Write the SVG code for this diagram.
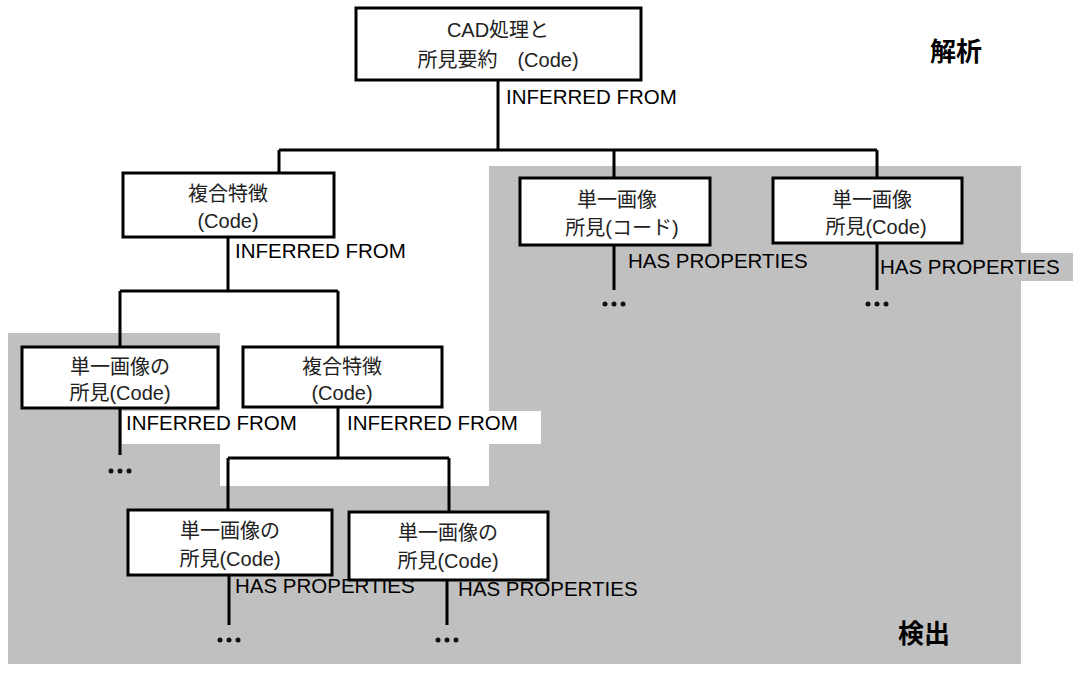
<svg xmlns="http://www.w3.org/2000/svg" width="1073" height="682" viewBox="0 0 1073 682">
<style>
.box{fill:#fff;stroke:#000;stroke-width:3}
.ln{stroke:#000;stroke-width:3;fill:none}
.nt{font-family:"Liberation Sans","Noto Sans CJK JP",sans-serif;font-size:20px;fill:#222;text-anchor:middle}
.lb{font-family:"Liberation Sans","Noto Sans CJK JP",sans-serif;font-size:20.5px;fill:#000}
.big{font-family:"Noto Sans CJK JP",sans-serif;font-size:26px;font-weight:bold;fill:#000}
.dot{fill:#111}
</style>
<g id="background">
<polygon points="489,166 1021,166 1021,664 8,664 8,333 220,333 220,486 489,486" fill="#c0c0c0"/>
<rect x="877" y="253" width="196" height="28" fill="#c0c0c0"/>
<rect x="122" y="411" width="419" height="33" fill="#fff"/>
</g>
<g id="connectors">
<path class="ln" d="M498,80 V150 M279,150 H877 M279,150 V173 M614,150 V178 M877,150 V178"/>
<path class="ln" d="M228,237 V291 M120,291 H338 M120,291 V347 M338,291 V347"/>
<path class="ln" d="M120,408 V455 M338,407 V458 M228,458 H449 M228,458 V510 M449,458 V512"/>
<path class="ln" d="M229,575 V625 M447,580 V625 M614,245 V290 M877,243 V290"/>
<text class="lb" x="506" y="104">INFERRED FROM</text>
<text class="lb" x="235" y="258">INFERRED FROM</text>
<text class="lb" x="126" y="430">INFERRED FROM</text>
<text class="lb" x="347" y="430">INFERRED FROM</text>
<text class="lb" x="628" y="268">HAS PROPERTIES</text>
<text class="lb" x="880" y="274">HAS PROPERTIES</text>
<text class="lb" x="235" y="593">HAS PROPERTIES</text>
<text class="lb" x="458" y="596">HAS PROPERTIES</text>
<g class="dot">
<circle cx="605" cy="304" r="2.5"/><circle cx="614" cy="304" r="2.5"/><circle cx="623" cy="304" r="2.5"/>
<circle cx="868" cy="304" r="2.5"/><circle cx="877" cy="304" r="2.5"/><circle cx="886" cy="304" r="2.5"/>
<circle cx="111" cy="471" r="2.5"/><circle cx="120" cy="471" r="2.5"/><circle cx="129" cy="471" r="2.5"/>
<circle cx="220" cy="640" r="2.5"/><circle cx="229" cy="640" r="2.5"/><circle cx="238" cy="640" r="2.5"/>
<circle cx="438" cy="640" r="2.5"/><circle cx="447" cy="640" r="2.5"/><circle cx="456" cy="640" r="2.5"/>
</g>
</g>
<g id="n_top">
<rect class="box" x="356" y="8" width="285" height="72"/>
<text class="nt" x="498" y="37">CAD処理と</text>
<text class="nt" x="498" y="67">所見要約　(Code)</text>
</g>
<g id="n_composite1">
<rect class="box" x="123" y="173" width="211" height="64"/>
<text class="nt" x="228" y="201">複合特徴</text>
<text class="nt" x="228" y="228">(Code)</text>
</g>
<g id="n_single_jp">
<rect class="box" x="520" y="178" width="190" height="67"/>
<text class="nt" x="617" y="207">単一画像</text>
<text class="nt" x="622" y="235">所見(コード)</text>
</g>
<g id="n_single_right">
<rect class="box" x="773" y="178" width="189" height="65"/>
<text class="nt" x="872" y="207">単一画像</text>
<text class="nt" x="876" y="234">所見(Code)</text>
</g>
<g id="n_single_left">
<rect class="box" x="22" y="347" width="196" height="61"/>
<text class="nt" x="120" y="374">単一画像の</text>
<text class="nt" x="120" y="400">所見(Code)</text>
</g>
<g id="n_composite2">
<rect class="box" x="243" y="347" width="199" height="60"/>
<text class="nt" x="342" y="374">複合特徴</text>
<text class="nt" x="342" y="400">(Code)</text>
</g>
<g id="n_single_bl">
<rect class="box" x="128" y="510" width="204" height="65"/>
<text class="nt" x="230" y="538">単一画像の</text>
<text class="nt" x="230" y="566">所見(Code)</text>
</g>
<g id="n_single_br">
<rect class="box" x="349" y="512" width="199" height="68"/>
<text class="nt" x="448" y="540">単一画像の</text>
<text class="nt" x="448" y="568">所見(Code)</text>
</g>
<text class="big" x="930" y="61">解析</text>
<text class="big" x="898" y="643">検出</text>
</svg>
